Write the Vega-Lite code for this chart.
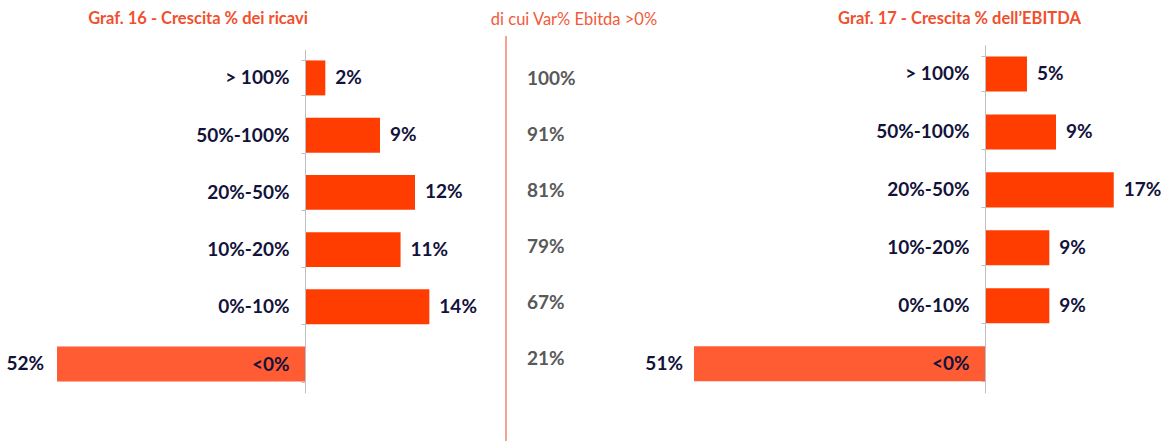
{
  "$schema": "https://vega.github.io/schema/vega-lite/v6.json",
  "padding": {"left": 0, "top": 10, "right": 0, "bottom": 0},
  "spacing": 0,
  "bounds": "flush",
  "config": {"view": {"stroke": null}, "font": "Lato", "axis": {"grid": false}},
  "datasets": {
    "ricavi": [
      {"cat": "> 100%", "bar": 2.31, "share": 0.02},
      {"cat": "50%-100%", "bar": 8.52, "share": 0.09},
      {"cat": "20%-50%", "bar": 12.5, "share": 0.12},
      {"cat": "10%-20%", "bar": 10.86, "share": 0.11},
      {"cat": "0%-10%", "bar": 14.13, "share": 0.14},
      {"cat": "<0%", "bar": -28.18, "share": 0.52}
    ],
    "ebitda": [
      {"cat": "> 100%", "bar": 4.77, "share": 0.05},
      {"cat": "50%-100%", "bar": 8.07, "share": 0.09},
      {"cat": "20%-50%", "bar": 14.63, "share": 0.17},
      {"cat": "10%-20%", "bar": 7.31, "share": 0.09},
      {"cat": "0%-10%", "bar": 7.31, "share": 0.09},
      {"cat": "<0%", "bar": -33.07, "share": 0.51}
    ],
    "mid": [
      {"cat": "> 100%", "pct": 1.0},
      {"cat": "50%-100%", "pct": 0.91},
      {"cat": "20%-50%", "pct": 0.81},
      {"cat": "10%-20%", "pct": 0.79},
      {"cat": "0%-10%", "pct": 0.67},
      {"cat": "<0%", "pct": 0.21}
    ]
  },
  "hconcat": [
    {
      "width": 506,
      "height": 357,
      "title": {"text": "Graf. 16 - Crescita % dei ricavi", "anchor": "middle", "dx": -55, "fontSize": 16.5, "fontWeight": "bold", "color": "#F0502D", "baseline": "alphabetic", "offset": -13},
      "data": {"name": "ricavi"},
      "encoding": {
        "y": {"field": "cat", "type": "nominal", "sort": null,
          "scale": {"paddingInner": 0.389, "paddingOuter": 0.1945, "range": [13.3, 356.7]},
          "axis": {"title": null, "orient": "left", "offset": -305, "domainColor": "#BFBFBF", "tickColor": "#BFBFBF", "tickSize": 4, "tickBand": "extent", "labelPadding": 12, "labelFontSize": 19, "labelFontWeight": "bold", "labelColor": "#12123A", "labelLimit": 0, "zindex": 1}}
      },
      "layer": [
        {"mark": {"type": "bar"},
         "encoding": {
           "x": {"field": "bar", "type": "quantitative", "scale": {"domain": [-34.659, 22.841], "nice": false}, "axis": null},
           "x2": {"datum": 0},
           "color": {"condition": {"test": "datum.bar < 0", "value": "#FF5C33"}, "value": "#FF3D00"}}},
        {"transform": [{"filter": "datum.bar > 0"}],
         "mark": {"type": "text", "align": "left", "dx": 10, "fontSize": 19, "fontWeight": "bold", "color": "#12123A"},
         "encoding": {"x": {"field": "bar", "type": "quantitative"}, "text": {"field": "share", "type": "quantitative", "format": ".0%"}}},
        {"transform": [{"filter": "datum.bar < 0"}],
         "mark": {"type": "text", "align": "right", "dx": -13, "fontSize": 19, "fontWeight": "bold", "color": "#12123A"},
         "encoding": {"x": {"field": "bar", "type": "quantitative"}, "text": {"field": "share", "type": "quantitative", "format": ".0%"}}}
      ]
    },
    {
      "width": 134,
      "height": 405,
      "title": {"text": "di cui Var% Ebitda >0%", "anchor": "middle", "dx": 1, "fontSize": 16.5, "fontWeight": "normal", "color": "#F15A3B", "baseline": "alphabetic", "offset": -6},
      "layer": [
        {"data": {"values": [{}]},
         "mark": {"type": "rule", "color": "#F4A490", "strokeWidth": 2},
         "encoding": {"x": {"datum": 0, "type": "quantitative", "scale": {"domain": [0, 1], "nice": false}, "axis": null}}},
        {"data": {"name": "mid"},
         "mark": {"type": "text", "align": "left", "dx": 21, "fontSize": 19, "fontWeight": "bold", "color": "#595959"},
         "encoding": {
           "x": {"datum": 0, "type": "quantitative"},
           "y": {"field": "cat", "type": "nominal", "sort": null, "scale": {"type": "point", "padding": 0, "range": [43, 323]}, "axis": null},
           "text": {"field": "pct", "type": "quantitative", "format": ".0%"}}}
      ]
    },
    {
      "width": 525,
      "height": 357,
      "title": {"text": "Graf. 17 - Crescita % dell’EBITDA", "anchor": "middle", "dx": 57, "fontSize": 16.5, "fontWeight": "bold", "color": "#F0502D", "baseline": "alphabetic", "offset": -13},
      "data": {"name": "ebitda"},
      "encoding": {
        "y": {"field": "cat", "type": "nominal", "sort": null,
          "scale": {"paddingInner": 0.396, "paddingOuter": 0.198, "range": [9, 356.7]},
          "axis": {"title": null, "orient": "left", "offset": -345, "domainColor": "#BFBFBF", "tickColor": "#BFBFBF", "tickSize": 4, "tickBand": "extent", "labelPadding": 12, "labelFontSize": 19, "labelFontWeight": "bold", "labelColor": "#12123A", "labelLimit": 0, "zindex": 1}}
      },
      "layer": [
        {"mark": {"type": "bar"},
         "encoding": {
           "x": {"field": "bar", "type": "quantitative", "scale": {"domain": [-39.2045, 20.4545], "nice": false}, "axis": null},
           "x2": {"datum": 0},
           "color": {"condition": {"test": "datum.bar < 0", "value": "#FF5C33"}, "value": "#FF3D00"}}},
        {"transform": [{"filter": "datum.bar > 0"}],
         "mark": {"type": "text", "align": "left", "dx": 10, "fontSize": 19, "fontWeight": "bold", "color": "#12123A"},
         "encoding": {"x": {"field": "bar", "type": "quantitative"}, "text": {"field": "share", "type": "quantitative", "format": ".0%"}}},
        {"transform": [{"filter": "datum.bar < 0"}],
         "mark": {"type": "text", "align": "right", "dx": -11, "fontSize": 19, "fontWeight": "bold", "color": "#12123A"},
         "encoding": {"x": {"field": "bar", "type": "quantitative"}, "text": {"field": "share", "type": "quantitative", "format": ".0%"}}}
      ]
    }
  ]
}
